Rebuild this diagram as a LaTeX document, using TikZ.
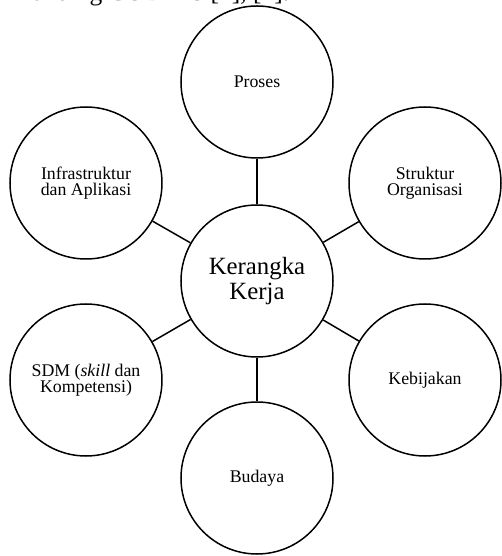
\documentclass[tikz,border=0pt]{standalone}
\usepackage{fontspec}
\setmainfont{Liberation Serif}
\begin{document}
\begin{tikzpicture}[x=1pt,y=1pt,line width=1.5pt,
  pilar/.style={circle,draw,minimum size=152pt,inner sep=0pt,align=center,
    font=\fontsize{17.8}{16.5}\selectfont},
  inti/.style={pilar,font=\fontsize{24.8}{25}\selectfont}]
% page frame
\useasboundingbox (-257,-275) rectangle (245,281);
\clip (-257,-275) rectangle (245,281);
% cut-off caption line above the figure
\node[anchor=base east,inner sep=0pt,font=\fontsize{25.5}{25.5}\selectfont] (judul) at (33,280) {anding COBIT 5 [1], [2].};
% centre circle
\node[inti] (kerja) at (0,0) {Kerangka\\Kerja};
% six circles around it, each tied to the centre
\foreach \nama/\pos/\teks in {proses/{0,199}/Proses,
    struktur/{168,98}/{Struktur\\Organisasi},
    kebijakan/{168,-99}/Kebijakan,
    budaya/{0,-197}/Budaya,
    sdm/{-171,-99}/{SDM (\textit{skill} dan\\Kompetensi)},
    infra/{-171,98}/{Infrastruktur\\dan Aplikasi}} {
    \node[pilar] (\nama) at (\pos) {\teks};
    \draw (kerja) -- (\nama);
}
\end{tikzpicture}
\end{document}
